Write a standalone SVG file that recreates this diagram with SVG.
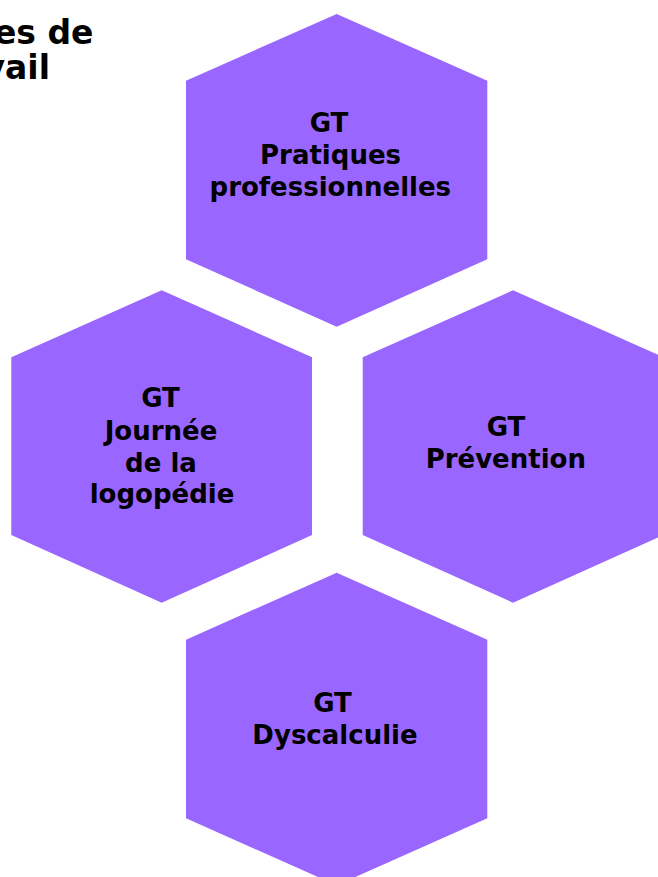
<svg xmlns="http://www.w3.org/2000/svg" width="658" height="877" viewBox="0 0 658 877">
  <style>
    .hex { fill: #9966FF; }
    .lbl { font-family: "DejaVu Sans", Verdana, sans-serif; font-weight: bold; font-size: 26px; fill: #000; text-anchor: middle; }
    .title { font-family: "DejaVu Sans", Verdana, sans-serif; font-weight: bold; font-size: 33px; fill: #000; text-anchor: end; }
  </style>
  <rect width="658" height="877" fill="#FFFFFF"/>
  <g id="title">
    <text class="title" x="93.5" y="44.3">Groupes de</text>
    <text class="title" x="50" y="79">travail</text>
  </g>
  <g id="connectors"></g>
  <g id="gt-pratiques">
    <polygon class="hex" points="336.7,14 487.3,80.7 487.3,259.3 336.7,326.7 186,259.3 186,80.7"/>
    <text class="lbl" x="329" y="132.3">GT</text>
    <text class="lbl" x="330.5" y="164.3">Pratiques</text>
    <text class="lbl" x="330.3" y="196">professionnelles</text>
  </g>
  <g id="gt-journee">
    <polygon class="hex" points="161.7,290.3 312,357.3 312,535 161.7,602.7 11.3,535 11.3,357.3"/>
    <text class="lbl" x="160.5" y="407.3">GT</text>
    <text class="lbl" x="161" y="439.7">Journée</text>
    <text class="lbl" x="161" y="471.5">de la</text>
    <text class="lbl" x="162" y="502.8">logopédie</text>
  </g>
  <g id="gt-prevention">
    <polygon class="hex" points="513,290.3 663.5,357.3 663.5,535 513,602.7 362.7,535 362.7,357.3"/>
    <text class="lbl" x="506" y="436">GT</text>
    <text class="lbl" x="505.8" y="468.3">Prévention</text>
  </g>
  <g id="gt-dyscalculie">
    <polygon class="hex" points="336.7,572.7 487.3,639.7 487.3,818.3 336.7,885.3 186,818.3 186,639.7"/>
    <text class="lbl" x="332.5" y="712.3">GT</text>
    <text class="lbl" x="335" y="744">Dyscalculie</text>
  </g>
</svg>
